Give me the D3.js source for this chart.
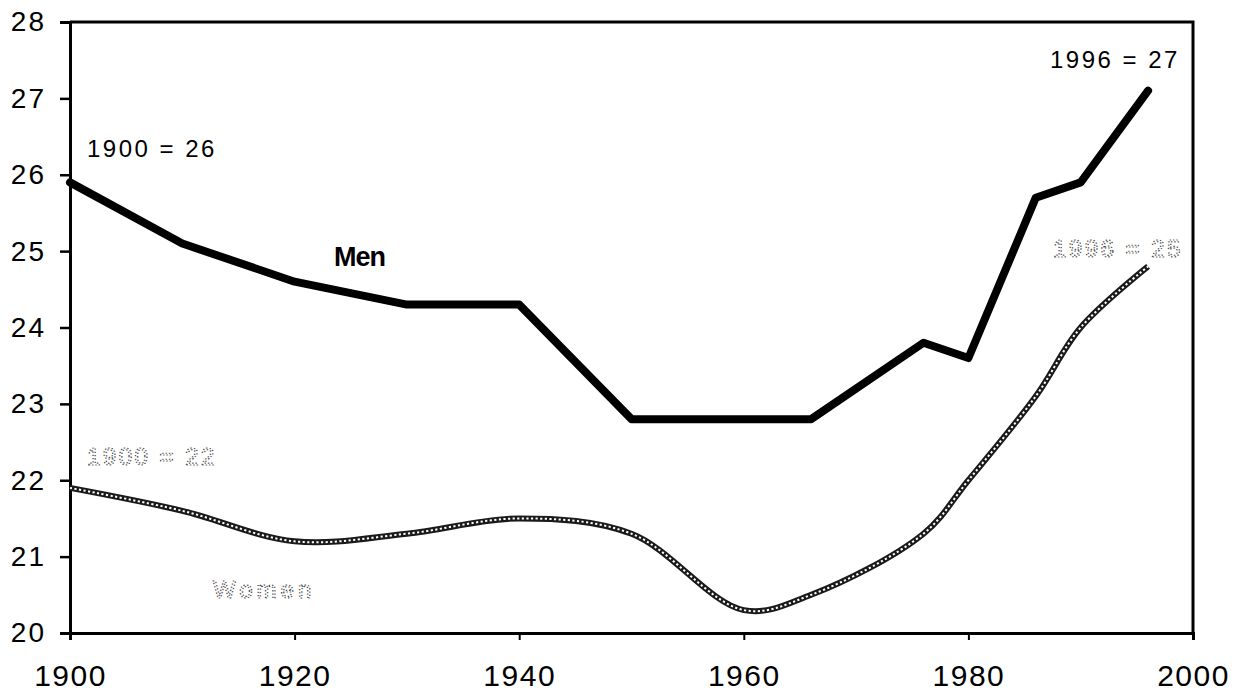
<!DOCTYPE html>
<html>
<head>
<meta charset="utf-8">
<script src="https://cdn.jsdelivr.net/npm/d3@7"></script>
<style>
  html, body { margin: 0; padding: 0; background: #fff; }
  svg text { font-family: "Liberation Sans", Arial, Helvetica, sans-serif; }
</style>
</head>
<body>
<svg id="chart" width="1236" height="696"></svg>
<script>
// ---- data ----
const menYears   = [1900, 1910, 1920, 1930, 1940, 1950, 1960, 1966, 1976, 1980, 1986, 1990, 1996];
const menAges    = [25.9, 25.1, 24.6, 24.3, 24.3, 22.8, 22.8, 22.8, 23.8, 23.6, 25.7, 25.9, 27.1];
const womenYears = [1900, 1910, 1920, 1930, 1940, 1950, 1960, 1966, 1976, 1980, 1986, 1990, 1996];
const womenAges  = [21.9, 21.6, 21.2, 21.3, 21.5, 21.3, 20.3, 20.5, 21.3, 22.0, 23.1, 24.0, 24.8];
const xTicks = [1900, 1920, 1940, 1960, 1980, 2000];
const yTicks = [20, 21, 22, 23, 24, 25, 26, 27, 28];
const menLabel = "Men";
const womenLabel = "Women";
const menStartLabel = "1900 = 26";
const menEndLabel = "1996 = 27";
const womenStartLabel = "1900 = 22";
const womenEndLabel = "1996 = 25";

(function () {
// ---- layout ----
const svg = d3.select("#chart");
const mLeft = 70, mRight = 1193, mTop = 22, mBottom = 633;
const x = d3.scaleLinear().domain([1900, 2000]).range([mLeft, mRight]);
const y = d3.scaleLinear().domain([20, 28]).range([mBottom, mTop]);

// frame (top and right)
svg.append("path")
  .attr("d", `M${mLeft},${mTop}H${mRight}V${mBottom}`)
  .attr("fill", "none").attr("stroke", "#000").attr("stroke-width", 3);

// y axis
const yAxis = svg.append("g").attr("transform", `translate(${mLeft},0)`)
  .call(d3.axisLeft(y).tickValues(yTicks).tickSize(10).tickPadding(14).tickFormat(d3.format("d")));
yAxis.select(".domain").attr("stroke-width", 3);
yAxis.selectAll(".tick line").attr("stroke-width", 2.5);
yAxis.selectAll("text").attr("font-size", 28).attr("fill", "#000")
  .attr("letter-spacing", 2)
  .style("font-family", "'Liberation Sans', Arial, sans-serif");

// x axis
const xAxis = svg.append("g").attr("transform", `translate(0,${mBottom})`)
  .call(d3.axisBottom(x).tickValues(xTicks).tickSize(7).tickPadding(25).tickFormat(d3.format("d")));
xAxis.select(".domain").attr("stroke-width", 3);
xAxis.selectAll(".tick line").attr("stroke-width", 2);
xAxis.selectAll("text").attr("font-size", 30).attr("fill", "#000")
  .attr("letter-spacing", 1.5)
  .style("font-family", "'Liberation Sans', Arial, sans-serif");

// lines
const menData = menYears.map((d, i) => [d, menAges[i]]);
const womenData = womenYears.map((d, i) => [d, womenAges[i]]);

const menLine = d3.line().x(d => x(d[0])).y(d => y(d[1]));
svg.append("path").datum(menData)
  .attr("d", menLine)
  .attr("fill", "none").attr("stroke", "#000").attr("stroke-width", 8)
  .attr("stroke-linejoin", "round").attr("stroke-linecap", "round");

const womenLine = d3.line().x(d => x(d[0])).y(d => y(d[1])).curve(d3.curveCatmullRom.alpha(0.5));
svg.append("path").datum(womenData)
  .attr("d", womenLine)
  .attr("fill", "none").attr("stroke", "#1a1a1a").attr("stroke-width", 6);
svg.append("path").datum(womenData)
  .attr("d", womenLine)
  .attr("fill", "none").attr("stroke", "#fff").attr("stroke-width", 2)
  .attr("stroke-dasharray", "2.2,2.4");

// labels
function solidText(t, px, py, size, weight, ls) {
  svg.append("text").text(t).attr("x", px).attr("y", py)
    .attr("font-size", size).attr("font-weight", weight || "normal")
    .attr("letter-spacing", ls || 0).attr("fill", "#000");
}
function dottedText(t, px, py, size, ls) {
  svg.append("text").text(t).attr("x", px).attr("y", py)
    .attr("font-size", size).attr("letter-spacing", ls || 0)
    .attr("fill", "#fff").attr("stroke", "#444").attr("stroke-width", 1.2)
    .attr("stroke-dasharray", "1.3,2");
}
solidText(menStartLabel, 87, 157, 24, "normal", 2.5);
solidText(menEndLabel, 1050, 68, 24, "normal", 2.5);
solidText(menLabel, 334, 266, 27, "bold", -1);
dottedText(womenStartLabel, 87, 465, 24, 2.5);
dottedText(womenEndLabel, 1053, 257, 24, 2.5);
dottedText(womenLabel, 213, 598, 24, 4);
})();
</script>
</body>
</html>
